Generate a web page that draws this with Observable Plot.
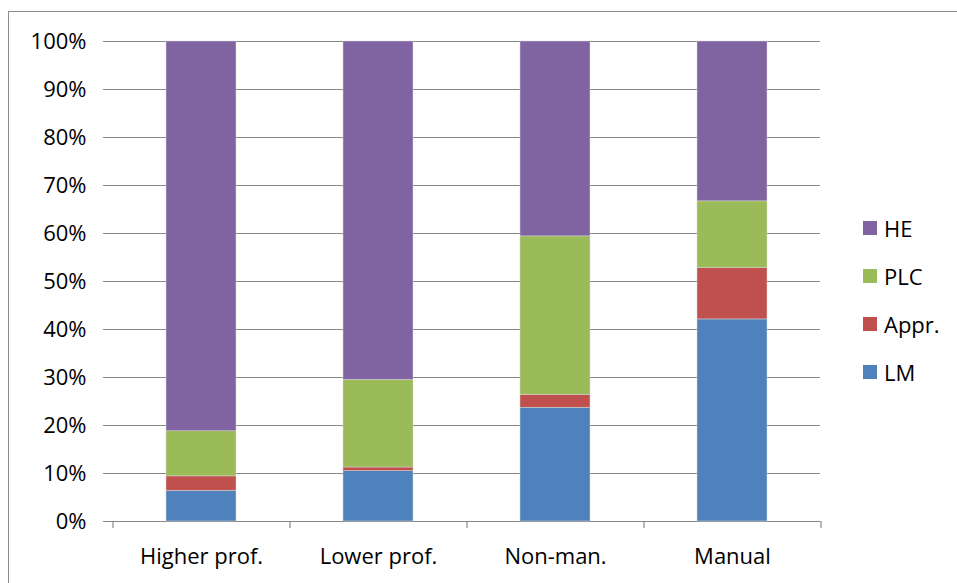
<!DOCTYPE html>
<html>
<head>
<meta charset="utf-8">
<script src="https://cdn.jsdelivr.net/npm/d3@7"></script>
<script src="https://cdn.jsdelivr.net/npm/@observablehq/plot@0.6"></script>
<style>
  html, body { margin: 0; padding: 0; background: #fff; }
  #wrap { position: relative; width: 957px; height: 583px; overflow: hidden; font-family: "Open Sans", Lato, sans-serif; }
  #frame { position: absolute; left: 8px; top: 11px; width: 960px; height: 600px; border-left: 1.5px solid #8c8c8c; border-top: 1.5px solid #8c8c8c; }
  #chart { position: absolute; left: 0; top: 0; }
  #legend { position: absolute; left: 863px; top: 204px; }
  .item { display: flex; align-items: center; height: 48px; font-size: 22px; color: #000; }
  .sw { width: 14px; height: 14px; margin-right: 7px; }
</style>
</head>
<body>
<div id="wrap">
  <div id="frame"></div>
  <div id="chart"></div>
  <div id="legend"></div>
</div>
<script>
const categories = ["Higher prof.", "Lower prof.", "Non-man.", "Manual"];
const series = ["LM", "Appr.", "PLC", "HE"];
const colors = ["#4F81BD", "#C0504D", "#9BBB59", "#8064A2"];
const LM   = [6.4, 10.5, 23.7, 42.1];
const Appr = [3.0, 0.75, 2.7, 10.7];
const PLC  = [9.4, 18.25, 33.0, 13.9];
const HE   = [81.2, 70.5, 40.6, 33.3];
const yTicks = [0, 0.1, 0.2, 0.3, 0.4, 0.5, 0.6, 0.7, 0.8, 0.9, 1.0];

const values = [LM, Appr, PLC, HE];
const rows = [];
categories.forEach((c, i) => {
  series.forEach((s, j) => rows.push({category: c, series: s, value: values[j][i]}));
});

const W = 957, H = 583;
const mL = 112, mR = W - 820, mT = 41, mB = H - 521;
const step = (W - mL - mR) / categories.length;
const font = "'Open Sans', Lato, sans-serif";

const chart = Plot.plot({
  width: W,
  height: H,
  marginLeft: mL,
  marginRight: mR,
  marginTop: mT,
  marginBottom: mB,
  style: {fontFamily: font, fontSize: "22px", color: "#000", background: "transparent"},
  x: {domain: categories, paddingInner: 0.605, paddingOuter: 0.3025, label: null},
  y: {domain: [0, 1], label: null},
  color: {domain: series, range: colors},
  marks: [
    Plot.ruleY(yTicks, {stroke: "#878787", strokeWidth: 1.2, insetLeft: -9}),
    Plot.barY(rows, Plot.stackY({
      offset: "normalize", order: series,
      x: "category", y: "value", fill: "series",
      stroke: "#d8d8d8", strokeWidth: 0.6, strokeOpacity: 0.8
    })),
    Plot.ruleX([0], {frameAnchor: "left", stroke: "#878787", strokeWidth: 1.2}),
    Plot.ruleX(categories, {x: d => d, dx: -step / 2, stroke: "#878787", strokeWidth: 1.2, insetTop: H - mT - mB, insetBottom: -7}),
    Plot.ruleX(categories.slice(-1), {x: d => d, dx: step / 2, stroke: "#878787", strokeWidth: 1.2, insetTop: H - mT - mB, insetBottom: -7}),
    Plot.axisY({ticks: yTicks, tickFormat: d3.format(".0%"), tickSize: 0, tickPadding: 26, fontSize: 22, label: null}),
    Plot.axisX({tickSize: 0, tickPadding: 27, fontSize: 22, label: null})
  ]
});
document.getElementById("chart").appendChild(chart);

const legend = document.getElementById("legend");
series.slice().reverse().forEach((s) => {
  const i = series.indexOf(s);
  const item = document.createElement("div");
  item.className = "item";
  const sw = document.createElement("div");
  sw.className = "sw";
  sw.style.background = colors[i];
  const t = document.createElement("span");
  t.textContent = s;
  item.appendChild(sw);
  item.appendChild(t);
  legend.appendChild(item);
});
</script>
</body>
</html>
